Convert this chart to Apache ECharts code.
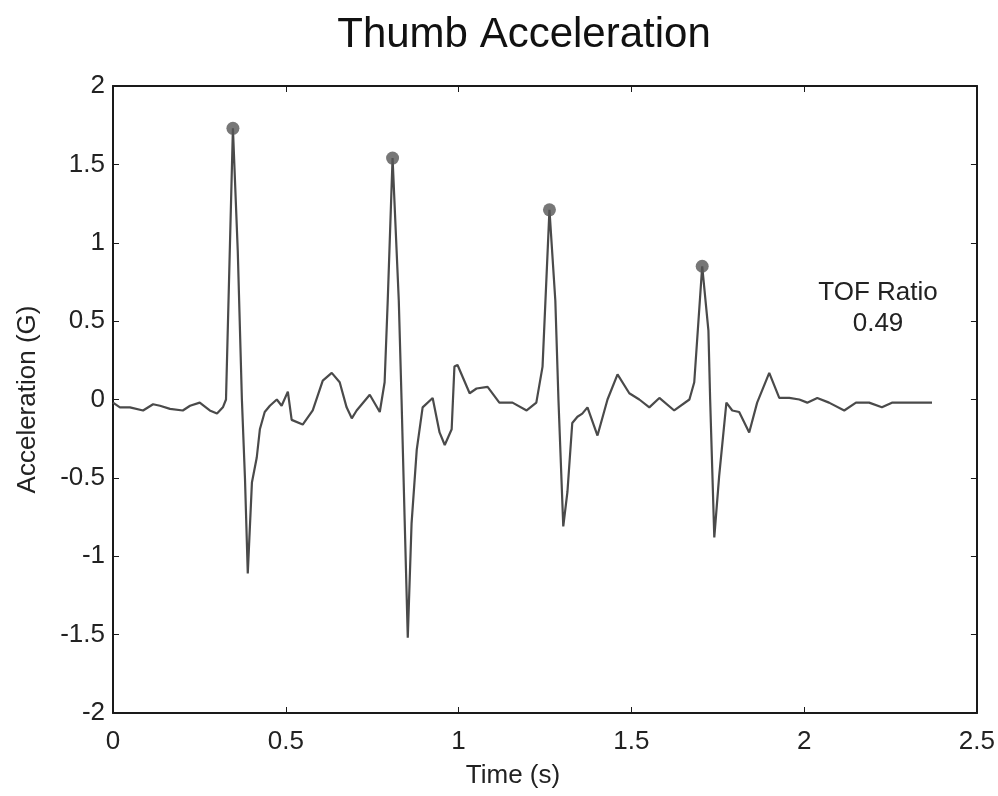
<!DOCTYPE html>
<html>
<head>
<meta charset="utf-8">
<title>Thumb Acceleration</title>
<script src="https://cdn.jsdelivr.net/npm/echarts@6/dist/echarts.min.js"></script>
<style>
  html, body { margin: 0; padding: 0; background: #fff; }
  #main { width: 998px; height: 796px; }
</style>
</head>
<body>
<div id="main"></div>
<script>
// time (s) and acceleration (G)
var time = [0, 0.020, 0.049, 0.087, 0.116, 0.136, 0.165, 0.202, 0.223, 0.251, 0.280, 0.301, 0.318,
    0.327, 0.347, 0.361, 0.373, 0.382, 0.390,
    0.402, 0.416, 0.425, 0.439, 0.454, 0.474, 0.488, 0.506, 0.517, 0.549, 0.578, 0.607, 0.633, 0.656,
    0.676, 0.691, 0.705, 0.743, 0.772, 0.786, 0.795, 0.809, 0.827, 0.835, 0.844, 0.853,
    0.864, 0.879, 0.896, 0.925, 0.945, 0.960, 0.980, 0.988, 0.997, 1.032, 1.052, 1.084, 1.118, 1.156,
    1.197, 1.225, 1.243, 1.263, 1.280, 1.289, 1.303,
    1.315, 1.329, 1.344, 1.358, 1.373, 1.402, 1.431, 1.460, 1.494, 1.523, 1.552, 1.581, 1.624, 1.668,
    1.682, 1.705, 1.723, 1.728, 1.740,
    1.754, 1.775, 1.792, 1.812, 1.841, 1.864, 1.899, 1.928, 1.957, 1.986, 2.009, 2.038, 2.072, 2.116,
    2.150, 2.188, 2.225, 2.254, 2.303, 2.332, 2.370];
var accel = [-0.02, -0.05, -0.05, -0.07, -0.03, -0.04, -0.06, -0.07, -0.04, -0.02, -0.07, -0.09, -0.05,
    0.0, 1.73, 0.95, 0.0, -0.51, -1.11,
    -0.53, -0.37, -0.19, -0.08, -0.04, 0.0, -0.04, 0.05, -0.13, -0.16, -0.07, 0.12, 0.17, 0.11,
    -0.05, -0.12, -0.07, 0.03, -0.08, 0.11, 0.63, 1.54, 0.63, 0.0, -0.77, -1.52,
    -0.79, -0.32, -0.05, 0.01, -0.21, -0.29, -0.19, 0.21, 0.22, 0.04, 0.07, 0.08, -0.02, -0.02,
    -0.07, -0.02, 0.21, 1.21, 0.63, 0.0, -0.81,
    -0.59, -0.15, -0.11, -0.09, -0.05, -0.23, 0.0, 0.16, 0.04, 0.0, -0.05, 0.01, -0.07, 0.0,
    0.11, 0.85, 0.44, 0.0, -0.88,
    -0.49, -0.02, -0.07, -0.08, -0.21, -0.02, 0.17, 0.01, 0.01, 0.0, -0.02, 0.01, -0.02, -0.07,
    -0.02, -0.02, -0.05, -0.02, -0.02, -0.02, -0.02];

// detected peaks
var peakTime = [0.347, 0.809, 1.263, 1.705];
var peakAccel = [1.73, 1.54, 1.21, 0.85];

var tofLabel = 'TOF Ratio';
var tofValue = '0.49';

var FONT = "'Liberation Sans', Arial, sans-serif";
var AXIS_COLOR = '#1a1a1a';

var myChart = echarts.init(document.getElementById('main'));

var lineData = [];
for (var i = 0; i < time.length; i++) {
    lineData.push([time[i], accel[i]]);
}
var peakData = [];
for (var j = 0; j < peakTime.length; j++) {
    peakData.push([peakTime[j], peakAccel[j]]);
}

// box axes: ticks pointing in on all four sides
function boxAxis(extra) {
    var a = {
        type: 'value',
        axisLine: { show: true, onZero: false, lineStyle: { color: AXIS_COLOR, width: 2 } },
        axisTick: { show: true, inside: true, length: 6, lineStyle: { color: AXIS_COLOR } },
        splitLine: { show: false }
    };
    for (var k in extra) a[k] = extra[k];
    return a;
}

var option = {
    backgroundColor: '#fff',
    animation: false,
    title: {
        text: 'Thumb Acceleration',
        left: 519,
        top: 9,
        textAlign: 'center',
        textStyle: { fontFamily: FONT, fontSize: 42, fontWeight: 'normal', color: '#111' }
    },
    grid: { left: 113, top: 86, right: 20, bottom: 83 },
    xAxis: [
        boxAxis({
            min: 0, max: 2.5, interval: 0.5,
            name: 'Time (s)',
            nameLocation: 'middle',
            nameGap: 50,
            nameTextStyle: { fontFamily: FONT, fontSize: 26, color: '#222', padding: [0, 64, 0, 0] },
            axisLabel: { fontFamily: FONT, fontSize: 26, color: '#222', margin: 16 }
        }),
        boxAxis({
            position: 'top',
            min: 0, max: 2.5, interval: 0.5,
            axisLabel: { show: false }
        })
    ],
    yAxis: [
        boxAxis({
            min: -2, max: 2, interval: 0.5,
            name: 'Acceleration (G)',
            nameLocation: 'middle',
            nameGap: 72,
            nameTextStyle: { fontFamily: FONT, fontSize: 26, color: '#222' },
            axisLabel: { fontFamily: FONT, fontSize: 26, color: '#222', margin: 8 }
        }),
        boxAxis({
            position: 'right',
            min: -2, max: 2, interval: 0.5,
            axisLabel: { show: false }
        })
    ],
    graphic: [
        {
            type: 'text',
            x: 878, y: 293,
            style: {
                text: tofLabel,
                align: 'center', textAlign: 'center',
                verticalAlign: 'middle', textVerticalAlign: 'middle',
                font: '26px ' + FONT,
                fill: '#222'
            }
        },
        {
            type: 'text',
            x: 878, y: 324,
            style: {
                text: tofValue,
                align: 'center', textAlign: 'center',
                verticalAlign: 'middle', textVerticalAlign: 'middle',
                font: '26px ' + FONT,
                fill: '#222'
            }
        }
    ],
    series: [
        {
            name: 'Acceleration',
            type: 'line',
            data: lineData,
            showSymbol: false,
            smooth: false,
            lineStyle: { color: '#4a4a4a', width: 2.2 },
            z: 2
        },
        {
            name: 'Peaks',
            type: 'scatter',
            data: peakData,
            symbol: 'circle',
            symbolSize: 13,
            itemStyle: { color: '#555' },
            z: 3
        }
    ]
};
myChart.setOption(option);
window.addEventListener('resize', function () {
    myChart.resize();
});
</script>
</body>
</html>
